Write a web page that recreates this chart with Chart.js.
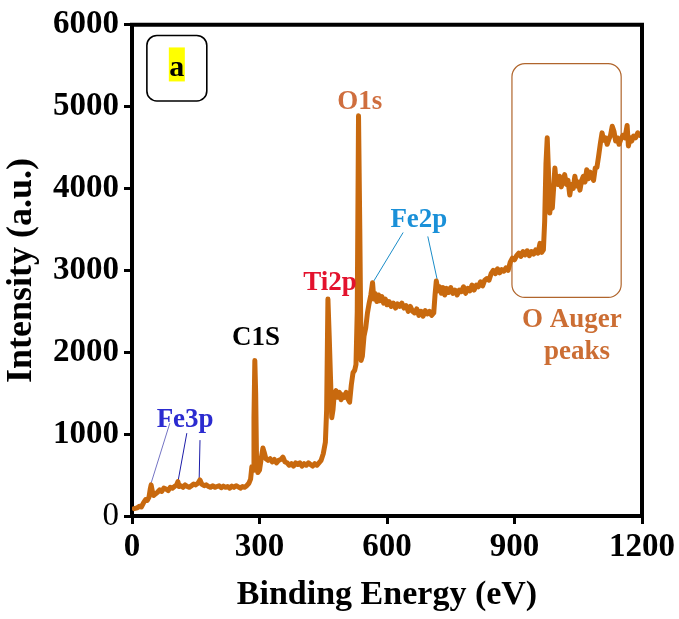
<!DOCTYPE html>
<html>
<head>
<meta charset="utf-8">
<script src="https://cdn.jsdelivr.net/npm/chart.js@4"></script>
<style>
  html, body { margin: 0; padding: 0; background: #fff; }
  canvas { display: block; }
</style>
</head>
<body>
<canvas id="xpsChart" width="679" height="619"></canvas>
<script>
// survey spectrum
const bindingEnergy = [
  5, 12, 18, 22, 28, 32, 36, 40, 43, 45, 48, 51, 55, 60, 65, 70, 75, 80, 85, 90,
  95, 100, 105, 108, 111, 115, 120, 125, 130, 135, 140, 145, 150, 155, 160, 164, 170, 175, 180, 185,
  190, 195, 200, 205, 210, 215, 220, 225, 230, 235, 240, 245, 250, 255, 260, 265, 270, 275, 279, 282,
  285, 287, 289, 291, 293, 296, 300, 304, 308, 311, 315, 320, 325, 330, 335, 340, 345, 350, 355, 360,
  365, 370, 375, 380, 385, 390, 395, 400, 405, 410, 415, 420, 425, 430, 435, 440, 445, 450, 455, 458,
  461, 464, 467, 470, 473, 476, 480, 484, 488, 492, 496, 500, 504, 508, 512, 516, 520, 524, 527, 530,
  533, 536, 539, 542, 546, 550, 554, 558, 562, 566, 569, 572, 576, 580, 584, 588, 592, 596, 600, 605,
  610, 615, 620, 625, 630, 635, 640, 645, 650, 655, 660, 665, 670, 675, 680, 685, 690, 695, 700, 705,
  710, 713, 716, 720, 724, 728, 732, 736, 740, 745, 750, 755, 760, 765, 770, 775, 780, 785, 790, 795,
  800, 805, 810, 815, 820, 825, 830, 835, 840, 845, 850, 855, 860, 865, 870, 875, 880, 885, 890, 895,
  900, 905, 910, 915, 920, 925, 930, 935, 940, 945, 950, 955, 960, 964, 968, 971, 974, 977, 980, 983,
  986, 989, 992, 995, 998, 1002, 1006, 1010, 1014, 1018, 1022, 1026, 1030, 1034, 1038, 1042, 1046, 1050, 1054, 1058,
  1062, 1066, 1070, 1074, 1078, 1082, 1086, 1090, 1094, 1098, 1102, 1106, 1110, 1114, 1118, 1122, 1126, 1130, 1134, 1138,
  1142, 1146, 1150, 1155, 1160, 1165, 1168, 1172, 1176, 1180, 1185, 1190, 1195
];
const intensity = [
  90, 100, 120, 110, 170, 200, 190, 230, 330, 380, 300, 250, 270, 290, 320, 300, 340, 330, 310, 350,
  340, 360, 380, 420, 360, 370, 350, 380, 360, 350, 370, 390, 380, 400, 440, 390, 370, 380, 360, 350,
  370, 350, 360, 370, 345, 365, 350, 360, 340, 365, 350, 370, 355, 340, 360, 350, 370, 400, 450, 600,
  560, 1200, 1900, 1500, 700, 530, 560, 700, 830, 780, 700, 680, 700, 660, 690, 650, 680, 690, 720, 660,
  650, 620, 640, 610, 650, 630, 650, 610, 640, 620, 650, 630, 610, 640, 620, 650, 680, 760, 900, 1300,
  2650, 2200, 1700, 1200, 1300, 1500, 1530, 1450, 1510, 1420, 1480, 1450, 1510, 1430, 1390, 1600, 1750, 1780, 1850, 2500,
  4890, 3500, 1900, 1950, 2200, 2300, 2480, 2600, 2700, 2850, 2650, 2720, 2620, 2700, 2630, 2680, 2600, 2650, 2580, 2620,
  2560, 2600, 2540, 2590, 2560, 2600, 2540, 2570, 2500, 2560, 2500, 2480, 2530, 2450, 2500, 2440, 2510, 2470, 2500, 2450,
  2480, 2700, 2870, 2750, 2800, 2720, 2790, 2700, 2780, 2730, 2790, 2720, 2760, 2700, 2760, 2740, 2800, 2720, 2780, 2750,
  2820, 2760, 2820, 2800, 2860, 2810, 2880, 2900, 2880, 2960, 3000, 2960, 3020, 2970, 3010, 2990, 3030, 3000, 3100, 3150,
  3130, 3180, 3210, 3170, 3230, 3190, 3240, 3180, 3230, 3200, 3250, 3210, 3330, 3220, 3250, 3600, 4300, 4620, 4200, 3700,
  3880, 3760, 4000, 4250, 4080, 4050, 4150, 4020, 4100, 4170, 4050, 4100, 3920, 4050, 4000, 4150, 4030, 4080, 3980, 4100,
  4150, 4080, 4230, 4120, 4200, 4150, 4100, 4250, 4260, 4400, 4550, 4680, 4590, 4620, 4540, 4600, 4650, 4760, 4700, 4580,
  4620, 4540, 4600, 4650, 4620, 4770, 4520, 4620, 4580, 4640, 4620, 4680, 4650
];
const xTicks = [0, 300, 600, 900, 1200];
const yTicks = [0, 1000, 2000, 3000, 4000, 5000, 6000];

const serif = 'Liberation Serif';

// peak labels and leader lines, in data units
const peakLabels = [
  { text: 'O1s', x: 536, y: 5060, color: '#cf6e3e' },
  { text: 'Ti2p', x: 466, y: 2840, color: '#e3122d' },
  { text: 'C1S', x: 292, y: 2170, color: '#000000' },
  { text: 'Fe2p', x: 675, y: 3610, color: '#1a90d8' },
  { text: 'Fe3p', x: 125, y: 1170, color: '#2b2bd0' },
  { text: 'O Auger', x: 1035, y: 2390, color: '#cc6e34' },
  { text: 'peaks', x: 1047, y: 2000, color: '#cc6e34' }
];
const leaders = [
  { from: [638, 3463], to: [567, 2854], color: '#1a8cc8' },
  { from: [696, 3415], to: [718, 2890], color: '#1a8cc8' },
  { from: [89, 1134], to: [45, 402], color: '#7474c4' },
  { from: [129, 1012], to: [108, 415], color: '#1c1ca8' },
  { from: [160, 927], to: [158, 439], color: '#1c1ca8' }
];

function roundRect(ctx, x, y, w, h, r) {
  ctx.beginPath();
  ctx.moveTo(x + r, y);
  ctx.arcTo(x + w, y, x + w, y + h, r);
  ctx.arcTo(x + w, y + h, x, y + h, r);
  ctx.arcTo(x, y + h, x, y, r);
  ctx.arcTo(x, y, x + w, y, r);
  ctx.closePath();
}

const decorations = {
  id: 'decorations',
  beforeDatasetsDraw(chart) {
    const { ctx, scales: { x, y } } = chart;
    ctx.save();
    // O Auger box
    const bx = x.getPixelForValue(894), by = y.getPixelForValue(5525);
    roundRect(ctx, bx, by, x.getPixelForValue(1151) - bx, y.getPixelForValue(2670) - by, 13);
    ctx.strokeStyle = '#b0652c';
    ctx.lineWidth = 1.2;
    ctx.stroke();
    // leader lines
    ctx.lineWidth = 1;
    leaders.forEach(l => {
      ctx.strokeStyle = l.color;
      ctx.beginPath();
      ctx.moveTo(x.getPixelForValue(l.from[0]), y.getPixelForValue(l.from[1]));
      ctx.lineTo(x.getPixelForValue(l.to[0]), y.getPixelForValue(l.to[1]));
      ctx.stroke();
    });
    ctx.restore();
  },
  afterDraw(chart) {
    const { ctx, chartArea: a, scales: { x, y } } = chart;
    ctx.save();
    // top and right frame
    ctx.strokeStyle = '#000';
    ctx.lineWidth = 4;
    ctx.beginPath();
    ctx.moveTo(a.left - 2, a.top);
    ctx.lineTo(a.right, a.top);
    ctx.lineTo(a.right, a.bottom + 2);
    ctx.stroke();

    // panel tag "a"
    const tx = x.getPixelForValue(35), ty = y.getPixelForValue(5870);
    const tw = x.getPixelForValue(176) - tx, th = y.getPixelForValue(5070) - ty;
    roundRect(ctx, tx, ty, tw, th, 10);
    ctx.lineWidth = 1.6;
    ctx.stroke();
    ctx.fillStyle = '#ffff00';
    ctx.fillRect(tx + tw / 2 - 8, ty + 12, 16, 34);
    ctx.fillStyle = '#000';
    ctx.font = `bold 30px "${serif}"`;
    ctx.textAlign = 'center';
    ctx.textBaseline = 'middle';
    ctx.fillText('a', tx + tw / 2, ty + th / 2);

    ctx.font = `bold 27px "${serif}"`;
    peakLabels.forEach(p => {
      ctx.fillStyle = p.color;
      ctx.fillText(p.text, x.getPixelForValue(p.x), y.getPixelForValue(p.y));
    });
    ctx.restore();
  }
};

const xpsChart = new Chart(document.getElementById('xpsChart'), {
  type: 'line',
  data: {
    datasets: [{
      data: bindingEnergy.map((e, i) => ({ x: e, y: intensity[i] })),
      borderColor: '#c8690e',
      borderWidth: 5,
      borderJoinStyle: 'round',
      borderCapStyle: 'round',
      pointRadius: 0,
      tension: 0,
      fill: false
    }]
  },
  options: {
    responsive: false,
    animation: false,
    devicePixelRatio: 1,
    layout: { padding: { top: 24, right: 37, bottom: 0, left: 0 } },
    plugins: { legend: { display: false }, tooltip: { enabled: false } },
    scales: {
      x: {
        type: 'linear',
        min: 0,
        max: 1200,
        afterBuildTicks: s => { s.ticks = xTicks.map(v => ({ value: v })); },
        afterFit: s => { s.height = 103; },
        ticks: {
          color: '#000', padding: 4, maxRotation: 0,
          callback: v => String(v),
          font: { family: serif, weight: 'bold', size: 33 }
        },
        grid: { drawOnChartArea: false, tickLength: 8, tickWidth: 3, color: '#000' },
        border: { display: true, width: 4, color: '#000' },
        title: {
          display: true,
          text: 'Binding Energy (eV)',
          color: '#000',
          font: { family: serif, weight: 'bold', size: 34, lineHeight: 1 },
          padding: { top: 0, bottom: 7 }
        }
      },
      y: {
        min: 0,
        max: 6000,
        afterBuildTicks: s => { s.ticks = yTicks.map(v => ({ value: v })); },
        afterFit: s => { s.width = 132; },
        ticks: {
          color: '#000', padding: 5,
          callback: v => String(v),
          font: c => ({ family: serif, weight: c.tick && c.tick.value === 0 ? 'normal' : 'bold', size: 33 })
        },
        grid: { drawOnChartArea: false, tickLength: 8, tickWidth: 3, color: '#000' },
        border: { display: true, width: 4, color: '#000' },
        title: {
          display: true,
          text: 'Intensity (a.u.)',
          color: '#000',
          font: { family: serif, weight: 'bold', size: 36, lineHeight: 1 },
          padding: { top: 4, bottom: 0 }
        }
      }
    }
  },
  plugins: [decorations]
});
</script>
</body>
</html>
